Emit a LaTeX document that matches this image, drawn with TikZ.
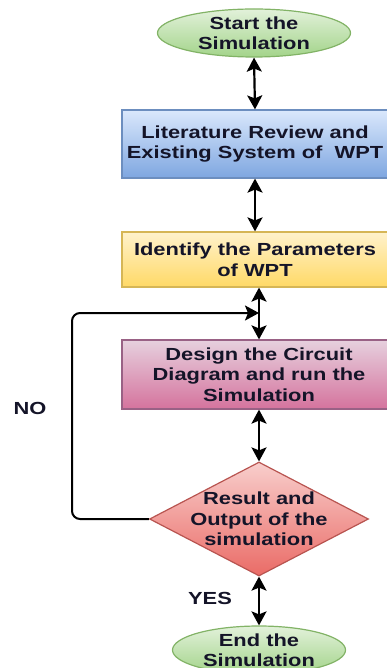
\documentclass[tikz,border=0pt]{standalone}
\usepackage{fontspec}
\setmainfont{Liberation Sans}[FakeStretch=1.25]
\usetikzlibrary{arrows.meta,shapes.geometric}

\definecolor{greenTop}{HTML}{E2F1DA}
\definecolor{greenBot}{HTML}{A3D48A}
\definecolor{greenLine}{HTML}{82B366}
\definecolor{blueTop}{HTML}{DAE8FC}
\definecolor{blueBot}{HTML}{7EA6E0}
\definecolor{blueLine}{HTML}{6C8EBF}
\definecolor{yellowTop}{HTML}{FFF2CC}
\definecolor{yellowBot}{HTML}{FFD966}
\definecolor{yellowLine}{HTML}{D6B656}
\definecolor{mauveTop}{HTML}{E6D0DE}
\definecolor{mauveBot}{HTML}{D5739D}
\definecolor{mauveLine}{HTML}{996185}
\definecolor{redTop}{HTML}{F8CECC}
\definecolor{redBot}{HTML}{EA6B66}
\definecolor{redLine}{HTML}{B85450}
\definecolor{ink}{HTML}{141428}

\begin{document}
\begin{tikzpicture}[x=1pt, y=-1pt, >={Stealth[width=15pt,length=14pt,inset=3pt]},
    every node/.style={font=\bfseries\fontsize{17.5}{20.5}\selectfont, align=center, text=ink},
    terminal/.style={ellipse, draw=greenLine, line width=1.2pt, top color=greenTop, bottom color=greenBot, inner sep=0pt},
    stepbox/.style={rectangle, draw, line width=1.2pt, inner sep=0pt},
    decision/.style={diamond, draw=redLine, line width=1.2pt, top color=redTop, bottom color=redBot, inner sep=0pt, minimum width=219pt, minimum height=114pt},
    link/.style={<->, line width=2.2pt},
    back/.style={->, line width=2pt, rounded corners=8pt}
]
  \useasboundingbox (0,0) rectangle (387,668);

  % flow from top to bottom
  \node[terminal, minimum width=193pt, minimum height=48pt] (start) at (254,33) {Start the\\Simulation};
  \node[stepbox, draw=blueLine, top color=blueTop, bottom color=blueBot, minimum width=266pt, minimum height=68pt] (review) at (255,144) {Literature Review and\\Existing System of~ WPT};
  \node[stepbox, draw=yellowLine, top color=yellowTop, bottom color=yellowBot, minimum width=266pt, minimum height=55pt] (params) at (255,259.5) {Identify the Parameters\\of WPT};
  \node[stepbox, draw=mauveLine, top color=mauveTop, bottom color=mauveBot, minimum width=274pt, minimum height=69pt] (design) at (259,374.5) {Design the Circuit\\Diagram and run the\\Simulation};
  \node[decision] (result) at (259,519) {};
  \node (resultText) at (result.center) {Result and\\Output of the\\simulation};
  \node[terminal, minimum width=173pt, minimum height=48pt] (finish) at (259,650) {End the\\Simulation};

  \node (no) at (30,408) {NO};
  \node (yes) at (210,598) {YES};

  \draw[link] (start.south) -- (review.north);
  \draw[link] (review.south) -- (params.north);
  \draw[link] (params.south -| design.north) -- (design.north);
  \draw[link] (design.south) -- (result.north);
  \draw[link] (result.south) -- (finish.north);

  % loop back when the result is not good
  \coordinate (join) at (259,313);
  \draw[back] (result.west) -- (72,519) -- (72,313) -- (join);
\end{tikzpicture}
\end{document}
